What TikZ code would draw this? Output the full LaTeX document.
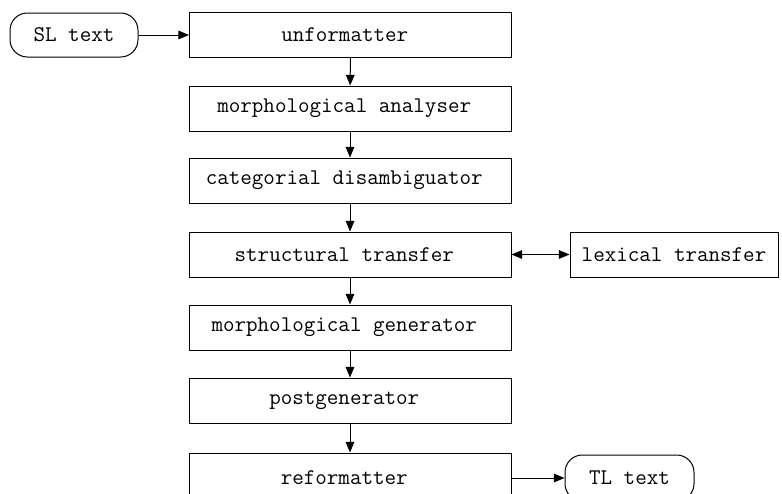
\documentclass[tikz,border=0pt]{standalone}
\usetikzlibrary{arrows.meta}
\begin{document}
\begin{tikzpicture}[x=0.75pt,y=-0.75pt,
  every node/.style={font=\ttfamily\fontsize{16.8}{18}\selectfont, inner sep=0pt},
  stage/.style={draw, line width=0.75pt, minimum width=241.5pt, minimum height=33.75pt},
  terminal/.style={draw, line width=0.75pt, rounded corners=13pt, minimum width=96pt, minimum height=33pt},
  conn/.style={line width=0.75pt, -{Triangle[length=8pt,width=6.5pt]}},
  biconn/.style={line width=0.75pt, {Triangle[length=8pt,width=6.5pt]}-{Triangle[length=8pt,width=6.5pt]}}]
\useasboundingbox (0,0) rectangle (782,493);
\node[terminal] (sl) at (74,35) {SL text};
\node[stage] (unf) at (350.5,35) {unformatter\ \null};
\node[stage] (ana) at (350,108.5) {morphological analyser\ \null};
\node[stage] (cat) at (350,180.5) {categorial disambiguator\ \null};
\node[stage] (str) at (350,254.5) {structural transfer\ \null};
\node[stage, minimum width=156pt] (lex) at (674,254.5) {lexical transfer};
\node[stage] (gen) at (350,327.5) {morphological generator\ \null};
\node[stage] (post) at (350,400.5) {postgenerator\ \null};
\node[stage, minimum height=37.5pt] (ref) at (350,478) {reformatter\ \null};
\node[terminal, minimum width=96.75pt, minimum height=34.5pt] (tl) at (629.5,478) {TL text};
\draw[conn] (sl) -- (unf);
\draw[conn] (unf) -- (ana);
\draw[conn] (ana) -- (cat);
\draw[conn] (cat) -- (str);
\draw[biconn] (str) -- (lex);
\draw[conn] (str) -- (gen);
\draw[conn] (gen) -- (post);
\draw[conn] (post) -- (ref);
\draw[conn] (ref) -- (tl);
\end{tikzpicture}
\end{document}
